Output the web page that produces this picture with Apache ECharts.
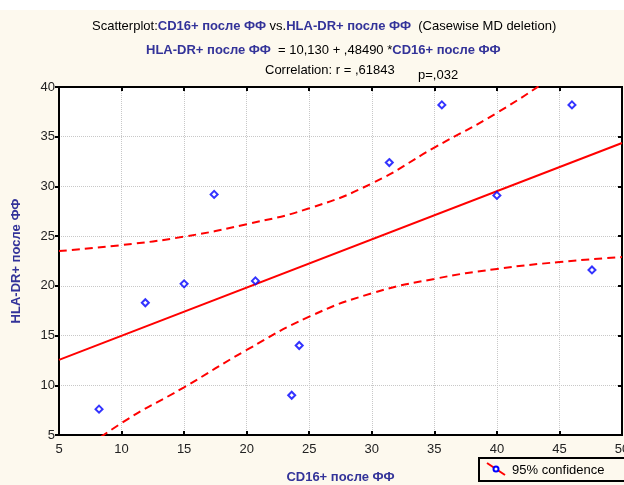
<!DOCTYPE html>
<html>
<head>
<meta charset="utf-8">
<script src="https://cdn.jsdelivr.net/npm/echarts@6/dist/echarts.min.js"></script>
<style>
  html, body { margin: 0; padding: 0; background: #fdf9ee; overflow: hidden; }
  #chart { width: 624px; height: 485px; }
</style>
</head>
<body>
<div id="chart"></div>
<script>
  // точки: CD16+ после ФФ (x) и HLA-DR+ после ФФ (y)
  const cd16 = [8.2, 11.9, 15.0, 20.7, 23.6, 24.2, 17.4, 31.4, 35.6, 40.0, 46.0, 47.6]
  const hladr = [7.6, 18.3, 20.2, 20.5, 9.0, 14.0, 29.2, 32.4, 38.2, 29.1, 38.2, 21.6]

  // линия регрессии (концы)
  const regX = [5, 50]
  const regY = [12.55, 34.37]

  // 95% доверительные границы
  const bandX = [5, 10, 15, 20, 25, 30, 35, 40, 45, 50]
  const upperY = [23.5, 24.1, 24.95, 26.2, 27.8, 30.3, 33.9, 37.4, 41.5, 45.9]
  const lowerY = [1.7, 6.2, 9.8, 13.55, 16.9, 19.25, 20.7, 21.7, 22.4, 22.9]

  const xTicks = [5, 50, 5]   // min, max, interval
  const yTicks = [5, 40, 5]

  const blue = '#333399'
  const red = '#ff0000'
  const font = 'Arial, "Liberation Sans", sans-serif'

  let myChart = echarts.init(document.getElementById('chart'))

  const zip = (a, b) => a.map((v, i) => [v, b[i]])

  const option = {
    backgroundColor: '#fdf9ee',
    animation: false,
    title: [
      {
        left: 87,
        top: 15,
        text: '{a|Scatterplot:}{b|CD16+ после ФФ}{a| vs.}{b|HLA-DR+ после ФФ}{a|  (Casewise MD deletion)}',
        textStyle: {
          fontWeight: 'normal',
          rich: {
            a: { color: '#000', fontSize: 13, fontWeight: 'normal', fontFamily: font },
            b: { color: blue, fontSize: 13, fontWeight: 'bold', fontFamily: font }
          }
        }
      },
      {
        left: 141,
        top: 39,
        text: '{b|HLA-DR+ после ФФ}{a|  = 10,130 + ,48490 *}{b|CD16+ после ФФ}',
        textStyle: {
          fontWeight: 'normal',
          rich: {
            a: { color: '#000', fontSize: 13, fontWeight: 'normal', fontFamily: font },
            b: { color: blue, fontSize: 13, fontWeight: 'bold', fontFamily: font }
          }
        }
      },
      {
        left: 260,
        top: 59,
        text: 'Correlation: r = ,61843',
        textStyle: { color: '#000', fontSize: 13, fontWeight: 'normal', fontFamily: font }
      },
      {
        left: 413,
        top: 64,
        text: 'p=,032',
        textStyle: { color: '#000', fontSize: 13, fontWeight: 'normal', fontFamily: font }
      }
    ],
    grid: {
      left: 59,
      right: 2,
      top: 87,
      bottom: 50,
      outerBoundsMode: 'none',
      show: true,
      backgroundColor: '#fff',
      borderColor: '#000',
      borderWidth: 2
    },
    xAxis: [
      {
        type: 'value',
        min: xTicks[0],
        max: xTicks[1],
        interval: xTicks[2],
        name: 'CD16+ после ФФ',
        nameLocation: 'middle',
        nameGap: 36,
        nameTextStyle: { color: blue, fontSize: 13, fontWeight: 'bold', fontFamily: font },
        axisLine: { lineStyle: { color: '#000', width: 2 } },
        axisTick: { inside: true, length: 4, lineStyle: { color: '#000', width: 2 } },
        axisLabel: { color: '#222', fontSize: 13, fontFamily: font, margin: 8 },
        splitLine: { show: true, lineStyle: { color: '#c8c8c8', type: 'dotted', width: 1 } }
      },
      {
        type: 'value',
        position: 'top',
        min: xTicks[0],
        max: xTicks[1],
        interval: xTicks[2],
        axisLine: { lineStyle: { color: '#000', width: 2 } },
        axisTick: { inside: true, length: 4, lineStyle: { color: '#000', width: 2 } },
        axisLabel: { show: false },
        splitLine: { show: false }
      }
    ],
    yAxis: [
      {
        type: 'value',
        min: yTicks[0],
        max: yTicks[1],
        interval: yTicks[2],
        name: 'HLA-DR+ после ФФ',
        nameLocation: 'middle',
        nameGap: 36,
        nameTextStyle: { color: blue, fontSize: 13, fontWeight: 'bold', fontFamily: font },
        axisLine: { lineStyle: { color: '#000', width: 2 } },
        axisTick: { inside: false, length: 4, lineStyle: { color: '#000', width: 2 } },
        axisLabel: { color: '#222', fontSize: 13, fontFamily: font, margin: 4 },
        splitLine: { show: true, lineStyle: { color: '#c8c8c8', type: 'dotted', width: 1 } }
      },
      {
        type: 'value',
        position: 'right',
        min: yTicks[0],
        max: yTicks[1],
        interval: yTicks[2],
        axisLine: { lineStyle: { color: '#000', width: 2 } },
        axisTick: { inside: true, length: 4, lineStyle: { color: '#000', width: 2 } },
        axisLabel: { show: false },
        splitLine: { show: false }
      }
    ],
    series: [
      {
        name: 'upper',
        type: 'line',
        data: zip(bandX, upperY),
        smooth: true,
        clip: true,
        symbol: 'none',
        lineStyle: { color: red, width: 2, type: [8, 5] },
        z: 3
      },
      {
        name: 'lower',
        type: 'line',
        data: zip(bandX, lowerY),
        smooth: true,
        clip: true,
        symbol: 'none',
        lineStyle: { color: red, width: 2, type: [8, 5] },
        z: 3
      },
      {
        name: 'regression',
        type: 'line',
        data: zip(regX, regY),
        clip: true,
        symbol: 'none',
        lineStyle: { color: red, width: 2 },
        z: 3
      },
      {
        name: 'points',
        type: 'scatter',
        data: zip(cd16, hladr),
        symbol: 'diamond',
        symbolSize: 7,
        itemStyle: { color: '#fff', borderColor: '#0000ff', borderWidth: 2 },
        z: 4
      }
    ],
    graphic: [
      { type: 'rect', left: 0, top: 0, shape: { width: 624, height: 10 }, style: { fill: '#fff' }, silent: true },
      {
        type: 'group',
        left: 478,
        top: 457,
        children: [
          { type: 'rect', shape: { x: 0, y: 0, width: 150, height: 23 }, style: { fill: '#fdf9ee', stroke: '#000', lineWidth: 2 } },
          { type: 'line', shape: { x1: 8, y1: 5, x2: 26, y2: 17 }, style: { stroke: red, lineWidth: 2 } },
          { type: 'circle', shape: { cx: 17, cy: 11, r: 2.5 }, style: { fill: '#fff', stroke: '#0000ff', lineWidth: 2 } },
          { type: 'text', style: { x: 33, y: 12, text: '95% confidence', fill: '#000', font: '13px ' + font, verticalAlign: 'middle' } }
        ]
      }
    ]
  }

  myChart.setOption(option)
</script>
</body>
</html>
